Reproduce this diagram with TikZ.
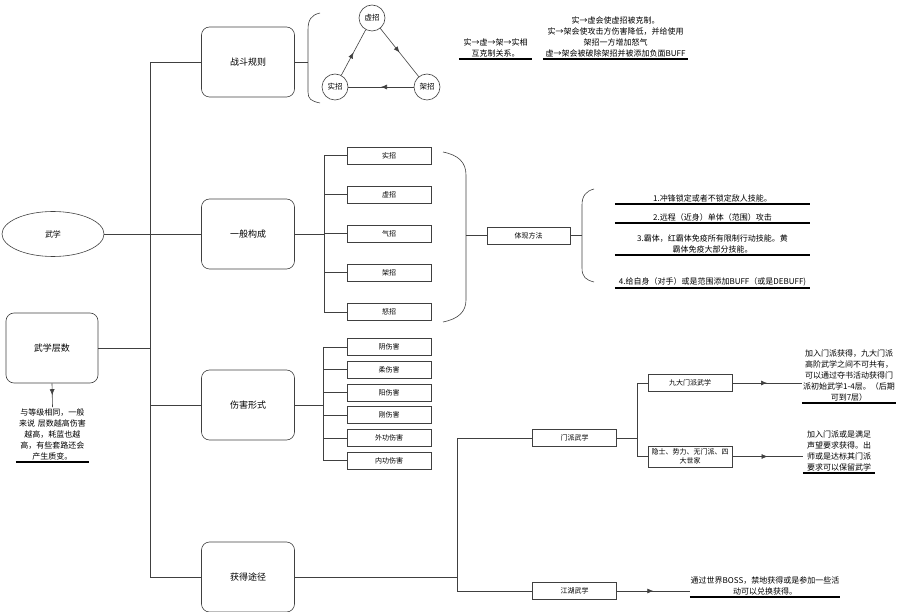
\documentclass[tikz,border=0pt]{standalone}
\usepackage{fontspec}
\newfontfamily\cjk{Noto Sans CJK SC}
\usetikzlibrary{arrows.meta,decorations.markings,shapes.geometric}

\begin{document}
\begin{tikzpicture}[
    x=1pt, y=-1pt,
    every node/.style={font=\cjk\fontsize{8}{11}\selectfont},
    link/.style={draw=black!75, line width=0.6pt},
    topic/.style={draw=black!75, line width=0.6pt, rounded corners=8pt,
      minimum width=93pt, minimum height=70pt, font=\cjk\fontsize{9}{11}\selectfont},
    item/.style={draw=black!75, line width=0.6pt, minimum width=84pt,
      minimum height=17pt, inner sep=1pt, font=\cjk\fontsize{7}{9}\selectfont},
    move/.style={circle, draw=black!75, line width=0.6pt, minimum size=26pt,
      inner sep=0pt, font=\cjk\fontsize{7.5}{9}\selectfont},
    note/.style={align=center, inner xsep=0pt, inner ysep=1.5pt, anchor=south},
    uline/.style={line width=2.2pt},
    midarrow/.style={postaction={decorate}, decoration={markings,
      mark=at position 0.5 with {\arrow{Latex[length=6pt,width=5pt]}}}},
  ]
  \useasboundingbox (0,0) rectangle (900,612);
  % Root and layers
  \node[draw=black!75, line width=0.6pt, ellipse, minimum width=102pt,
    minimum height=45pt] (wuxue) at (53,234) {武学};
  \node[topic, minimum width=92pt] (layers) at (52,348) {武学层数};
  \node[note, text width=73pt] (lnote) at (52.5,462)
    {与等级相同，一般\\来说 层数越高伤害\\越高，耗蓝也越\\高，有些套路还会\\产生质变。};
  % Topics on the trunk
  \node[topic] (rules)   at (248,62)  {战斗规则};
  \node[topic] (general) at (248,234) {一般构成};
  \node[topic] (damage)  at (248,405) {伤害形式};
  \node[topic] (gain)    at (248,577) {获得途径};
  \coordinate (trunk) at (150,0);
  \draw[link] (rules.west) -- (rules.west -| trunk) -- (gain.west -| trunk) -- (gain.west);
  \draw[link] (wuxue.east) -- (general.west);
  \draw[link] (layers.east) -- (layers.east -| trunk);
  \draw[link] (damage.west) -- (damage.west -| trunk);
  \draw[link, midarrow] (layers.south) -- (lnote.north);

  % Battle rules: triangle of moves
  \node[move] (xu)  at (372,18) {虚招};
  \node[move] (shi) at (335,87) {实招};
  \node[move] (jia) at (427,87) {架招};
  \draw[link, midarrow] (shi) -- (xu);
  \draw[link, midarrow] (xu) -- (jia);
  \draw[link, midarrow] (jia) -- (shi);
  \draw[link] (320,13) .. controls (311,15) and (308,20) .. (308,30) -- (308,92)
    .. controls (308,99) and (311,101) .. (320,103);
  \coordinate (braceA) at (308,62);
  \draw[link] (rules.east) -- (braceA);
  \node[note, text width=73pt] (ruleA) at (495.5,59) {实→虚→架→实相\\互克制关系。};
  \node[note, text width=145pt] (ruleB) at (615.5,59)
    {实→虚会使虚招被克制。\\实→架会使攻击方伤害降低，并给使用\\架招一方增加怒气\\虚→架会被破除架招并被添加负面BUFF};

  % General composition
  \coordinate (genbus) at (324,0);
  \foreach \lbl [count=\i] in {实招,虚招,气招,架招,怒招}
    \node[item] (g\i) at (389, 116.4+39.1*\i) {\lbl};
  \draw[link] (general.east) -- (general.east -| genbus);
  \draw[link] (g1.west -| genbus) -- (g5.west -| genbus);
  \foreach \i in {1,...,5} \draw[link] (g\i.west -| genbus) -- (g\i.west);
  \draw[link] (443,152) .. controls (458,155) and (466,162) .. (466,175) -- (466,300)
    .. controls (466,312) and (458,319) .. (443,322);
  \coordinate (braceB) at (466,235.5);
  \node[item, minimum width=83pt] (way) at (528.5,235.5) {体现方法};
  \draw[link] (braceB) -- (way.west);
  \draw[link] (594,189) .. controls (586,191) and (582,196) .. (582,205) -- (582,268)
    .. controls (582,277) and (586,280) .. (594,282);
  \coordinate (braceC) at (582,235.5);
  \draw[link] (way.east) -- (braceC);
  \node[note, text width=195pt] (w1) at (712.5,204) {1.冲锋锁定或者不锁定敌人技能。};
  \node[note, text width=195pt] (w2) at (712.5,223) {2.远程（近身）单体（范围）攻击};
  \node[note, text width=195pt] (w3) at (712.5,255)
    {3.霸体，红霸体免疫所有限制行动技能。黄\\霸体免疫大部分技能。};
  \node[note, text width=195pt] (w4) at (712.5,288) {4.给自身（对手）或是范围添加BUFF（或是DEBUFF)};

  % Damage forms
  \coordinate (dmgbus) at (323,0);
  \foreach \lbl [count=\i] in {阴伤害,柔伤害,阳伤害,刚伤害,外功伤害,内功伤害}
    \node[item] (d\i) at (389, 324.3+22.7*\i) {\lbl};
  \draw[link] (damage.east) -- (damage.east -| dmgbus);
  \draw[link] (d1.west -| dmgbus) -- (d6.west -| dmgbus);
  \foreach \i in {1,...,6} \draw[link] (d\i.west -| dmgbus) -- (d\i.west);

  % Ways to obtain
  \coordinate (gainbus) at (457,0);
  \node[item] (sect) at (574.5,438) {门派武学};
  \node[item] (jh)   at (574.5,591) {江湖武学};
  \draw[link] (gain.east) -- (gain.east -| gainbus);
  \draw[link] (sect.west) -| (jh.west -| gainbus) -- (jh.west);
  \coordinate (sectbus) at (637,0);
  \node[item] (nine) at (690,383) {九大门派武学};
  \node[item, minimum height=21pt, align=center] (hermit) at (690,456.5)
    {隐士、势力、无门派、四\\大世家};
  \draw[link] (sect.east) -- (sect.east -| sectbus);
  \draw[link] (nine.west) -| (hermit.west -| sectbus) -- (hermit.west);
  \node[note, text width=94pt] (mpA) at (849,403)
    {加入门派获得，九大门派\\高阶武学之间不可共有，\\可以通过夺书活动获得门\\派初始武学1-4层。（后期\\可到7层）};
  \node[note, text width=72pt] (mpB) at (839,473)
    {加入门派或是满足\\声望要求获得。出\\师或是达标其门派\\要求可以保留武学};
  \node[note, text width=150pt] (jhnote) at (765,597)
    {通过世界BOSS，禁地获得或是参加一些活\\动可以兑换获得。};
  \draw[link, midarrow] (nine.east) -- (nine.east -| mpA.west);
  \draw[link, midarrow] (hermit.east) -- (hermit.east -| mpB.west);
  \draw[link, midarrow] (jh.east) -- (jh.east -| jhnote.west);

  % Thick underlines below the notes
  \foreach \n in {lnote, ruleA, ruleB, w1, w2, w3, w4, mpA, mpB, jhnote}
    \draw[uline] (\n.south west) -- (\n.south east);
\end{tikzpicture}
\end{document}
